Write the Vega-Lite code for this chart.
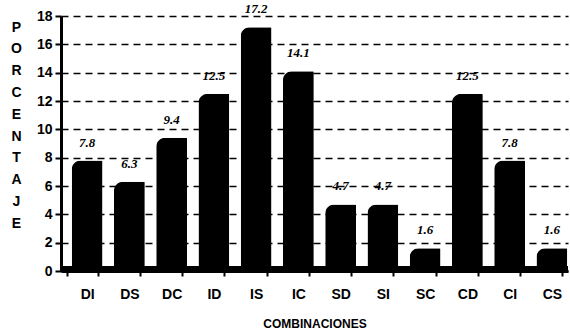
{
  "$schema": "https://vega.github.io/schema/vega-lite/v6.json",
  "autosize": {"type": "none"},
  "width": 507,
  "height": 255,
  "padding": {"left": 61, "top": 16, "right": 2, "bottom": 62},
  "background": "white",
  "data": {
    "values": [
      {"combinacion": "DI", "porcentaje": 7.8},
      {"combinacion": "DS", "porcentaje": 6.3},
      {"combinacion": "DC", "porcentaje": 9.4},
      {"combinacion": "ID", "porcentaje": 12.5},
      {"combinacion": "IS", "porcentaje": 17.2},
      {"combinacion": "IC", "porcentaje": 14.1},
      {"combinacion": "SD", "porcentaje": 4.7},
      {"combinacion": "SI", "porcentaje": 4.7},
      {"combinacion": "SC", "porcentaje": 1.6},
      {"combinacion": "CD", "porcentaje": 12.5},
      {"combinacion": "CI", "porcentaje": 7.8},
      {"combinacion": "CS", "porcentaje": 1.6}
    ]
  },
  "config": {
    "view": {"stroke": null},
    "font": "Liberation Sans"
  },
  "encoding": {
    "x": {
      "field": "combinacion",
      "type": "nominal",
      "sort": null,
      "scale": {"paddingInner": 0.27, "paddingOuter": 0.135},
      "axis": {
        "title": "COMBINACIONES",
        "titleFont": "Liberation Sans",
        "titleFontSize": 12,
        "titleFontWeight": "bold",
        "titleColor": "black",
        "titlePadding": 17,
        "labelAngle": 0,
        "labelFont": "Liberation Sans",
        "labelFontSize": 14,
        "labelFontWeight": "bold",
        "labelColor": "black",
        "labelPadding": 11,
        "labelOffset": 5,
        "tickBand": "extent",
        "tickColor": "black",
        "tickWidth": 2,
        "tickSize": 5,
        "domainColor": "black",
        "domainWidth": 3
      }
    },
    "y": {
      "field": "porcentaje",
      "type": "quantitative",
      "scale": {"domain": [0, 18], "nice": false},
      "axis": {
        "values": [0, 2, 4, 6, 8, 10, 12, 14, 16, 18],
        "title": ["P", "O", "R", "C", "E", "N", "T", "A", "J", "E"],
        "titleAngle": 0,
        "titleAlign": "center",
        "titleBaseline": "top",
        "titleX": -45,
        "titleY": 4,
        "titleLineHeight": 21.8,
        "titleFont": "Liberation Sans",
        "titleFontSize": 14,
        "titleFontWeight": "bold",
        "titleColor": "black",
        "labelFont": "Liberation Sans",
        "labelFontSize": 14,
        "labelFontWeight": "bold",
        "labelColor": "black",
        "labelPadding": 3,
        "tickColor": "black",
        "tickWidth": 2,
        "tickSize": 6,
        "domainColor": "black",
        "domainWidth": 3,
        "grid": true,
        "gridColor": "black",
        "gridWidth": 1.5,
        "gridDash": [7, 5]
      }
    }
  },
  "layer": [
    {
      "mark": {
        "type": "bar",
        "color": "black",
        "xOffset": 5,
        "cornerRadiusTopLeft": 9,
        "cornerRadiusTopRight": 1
      }
    },
    {
      "mark": {
        "type": "text",
        "font": "Liberation Serif",
        "fontSize": 13,
        "fontStyle": "italic",
        "fontWeight": "bold",
        "color": "black",
        "baseline": "bottom",
        "dx": 5,
        "dy": -11
      },
      "encoding": {
        "text": {"field": "porcentaje", "type": "quantitative", "format": ".1f"}
      }
    },
    {
      "mark": {"type": "rule", "color": "black", "strokeWidth": 5, "yOffset": -2},
      "encoding": {
        "y": {"datum": 0},
        "x": null
      }
    }
  ]
}
